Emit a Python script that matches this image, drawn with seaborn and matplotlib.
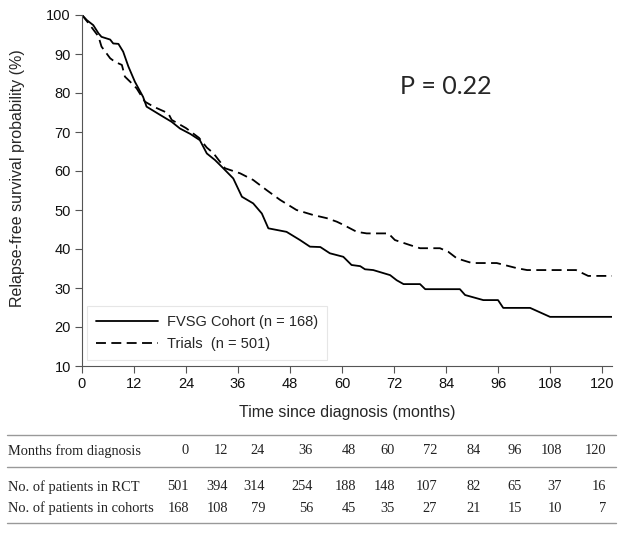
import pandas as pd
import matplotlib.pyplot as plt
import seaborn as sns
from matplotlib.lines import Line2D

# Kaplan-Meier curves (months, % relapse-free)
cohort_months = [0, 1.1, 2.6, 3.8, 4.5, 6.5, 7.2, 8.4, 9.5, 10.7, 12.2, 14.1, 14.9, 18, 20.7,
                 22.6, 25, 27.2, 28.8, 30.7, 32.6, 34.9, 36.9, 39.5, 41.5, 43, 47.2, 50.3, 52.6,
                 55, 57.2, 60.3, 62.2, 64.2, 65.3, 67.2, 71.1, 72.6, 74.2, 78, 79.2, 87.2, 88.4,
                 92.6, 96, 97.2, 103.4, 108, 122.3]
cohort_surv = [100, 98.7, 97.4, 95.3, 94.4, 93.7, 92.7, 92.6, 90.6, 86.8, 82.9, 79, 76.5, 74.4, 72.6,
               70.9, 69.5, 67.9, 64.5, 62.8, 60.7, 58.1, 53.4, 51.7, 49.1, 45.3, 44.4, 42.3, 40.6,
               40.5, 38.9, 38, 35.9, 35.6, 34.8, 34.6, 33.3, 32, 31, 31, 29.7, 29.7, 28.2,
               26.9, 26.9, 24.9, 24.9, 22.6, 22.6]

trial_months = [0, 1.5, 3.8, 4.5, 6.5, 7.6, 9.2, 9.9, 11.1, 12.6, 14.5, 16.5, 19.9, 20.7, 24, 27,
                28.8, 30.3, 33, 36.5, 39.5, 42.6, 45.7, 49.5, 53.4, 56.5, 58.8, 60.3, 63.4, 65.7,
                70.7, 72.2, 75.7, 78, 82.6, 84.5, 86.5, 88.8, 90, 95.7, 100.3, 102.7, 114, 116.8, 122.3]
trial_surv = [100, 97.9, 94.5, 91.9, 88.9, 88, 87.2, 84.2, 82.9, 81.2, 77.8, 76.5, 74.8, 73.1, 71, 68.5,
              66, 64.6, 60.7, 59.4, 57.7, 55.1, 52.6, 50, 48.7, 47.9, 47, 46.2, 44.4, 44,
              44, 42.3, 41, 40.2, 40.2, 39.3, 37.6, 36.8, 36.4, 36.4, 35.1, 34.6, 34.6, 33.1, 33.1]

cohort_label = 'FVSG Cohort (n = 168)'
trial_label = 'Trials  (n = 501)'

# numbers-at-risk table
table_months = [0, 12, 24, 36, 48, 60, 72, 84, 96, 108, 120]
rct_at_risk = [501, 394, 314, 254, 188, 148, 107, 82, 65, 37, 16]
cohort_at_risk = [168, 108, 79, 56, 45, 35, 27, 21, 15, 10, 7]

df = pd.concat([
    pd.DataFrame({'month': cohort_months, 'surv': cohort_surv, 'group': cohort_label}),
    pd.DataFrame({'month': trial_months, 'surv': trial_surv, 'group': trial_label}),
])

sns.set_style('ticks')
plt.rcParams['font.family'] = ['Liberation Sans', 'DejaVu Sans']

W, H = 624, 533
fig = plt.figure(figsize=(W / 100, H / 100), dpi=100)
ax = fig.add_axes([82 / W, 1 - 366 / H, (612 - 82) / W, (366 - 15) / H])

sns.lineplot(data=df, x='month', y='surv', style='group', color='black',
             dashes={cohort_label: '', trial_label: (5.5, 3)}, linewidth=1.3,
             estimator=None, sort=False, ax=ax)

ax.set_xlim(0, 122.3)
ax.set_ylim(10, 100)
ax.set_xticks(range(0, 121, 12))
ax.set_yticks(range(10, 101, 10))
ax.tick_params(labelsize=10.5, length=5, color='#555555', pad=3, labelcolor='#111111')
for s in ['left', 'bottom']:
    ax.spines[s].set_color('#555555')
sns.despine(ax=ax)

ax.set_xlabel('Time since diagnosis (months)', fontsize=11.5, labelpad=10)
ax.set_ylabel('')
fig.text(18 / W, 1 - 178 / H, 'Relapse-free survival probability (%)', rotation=90,
         ha='center', va='center', fontsize=11.5)

ax.text(446 / W, 1 - 86 / H, 'P = 0.22', transform=fig.transFigure, ha='center', va='center',
        fontsize=18, family=['Lato', 'DejaVu Sans'])

leg = ax.legend(loc='lower left', bbox_to_anchor=(87 / W, 1 - 360 / H), bbox_transform=fig.transFigure,
                borderaxespad=0, fontsize=10.5, handlelength=4.3, handletextpad=0.6,
                fancybox=False, frameon=True, edgecolor='#e0e0e0', borderpad=0.6,
                labelspacing=0.55, title=None)
leg.get_frame().set_linewidth(0.8)
for line in leg.get_lines():
    line.set_linewidth(1.3)

# table below the plot
serif = ['Liberation Serif', 'DejaVu Serif']
col_right = [189, 228, 265, 313, 356, 395, 437, 481, 522, 562, 606]
rows = [('Months from diagnosis', table_months, 451),
        ('No. of patients in RCT', rct_at_risk, 487),
        ('No. of patients in cohorts', cohort_at_risk, 508)]
for label, vals, y in rows:
    fig.text(8 / W, 1 - y / H, label, ha='left', va='center', fontsize=10.4, family=serif, color='#222222')
    for xr, v in zip(col_right, vals):
        fig.text(xr / W, 1 - y / H, str(v), ha='right', va='center', fontsize=10.4, family=serif,
                 color='#222222')

for y in [435, 467, 523]:
    fig.add_artist(Line2D([7 / W, 616 / W], [1 - y / H, 1 - y / H], transform=fig.transFigure,
                          color='#999999', linewidth=1.0))

fig.savefig('out.png', dpi=100)
